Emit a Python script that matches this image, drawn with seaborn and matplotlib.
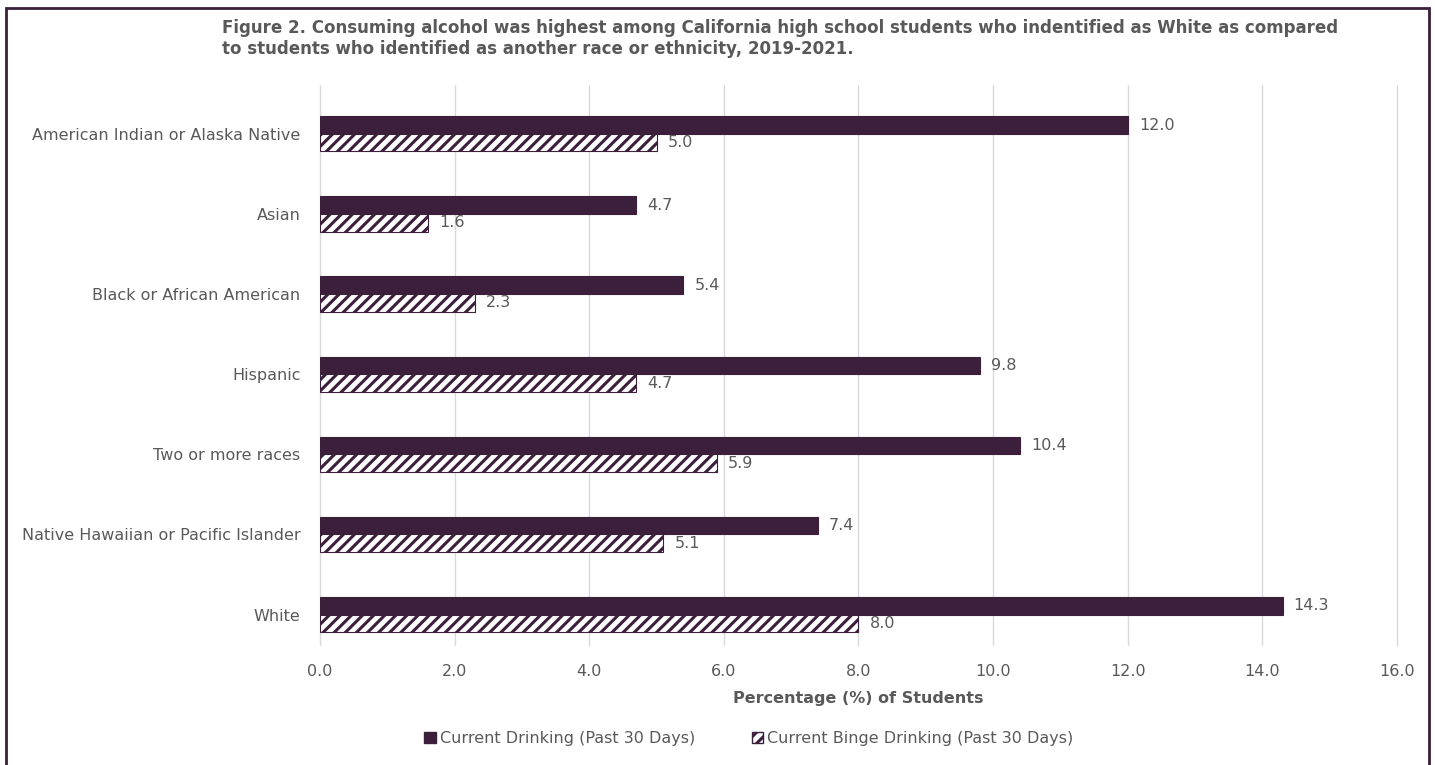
import matplotlib
matplotlib.use("Agg")
import matplotlib.pyplot as plt
import seaborn as sns
import pandas as pd
from matplotlib.patches import Rectangle, Patch

categories = ["American Indian or Alaska Native", "Asian", "Black or African American",
              "Hispanic", "Two or more races", "Native Hawaiian or Pacific Islander", "White"]
current = [12.0, 4.7, 5.4, 9.8, 10.4, 7.4, 14.3]
binge = [5.0, 1.6, 2.3, 4.7, 5.9, 5.1, 8.0]
series = ["Current Drinking (Past 30 Days)", "Current Binge Drinking (Past 30 Days)"]
xticks = [0, 2, 4, 6, 8, 10, 12, 14, 16]

DARK = "#3B1F3B"
GRAY = "#595959"

sns.set_theme(style="white")
plt.rcParams['font.family'] = ['DejaVu Sans']
plt.rcParams['hatch.linewidth'] = 2.2

df = pd.DataFrame({
    "Category": categories * 2,
    "Series": [series[0]] * len(categories) + [series[1]] * len(categories),
    "Value": current + binge,
})

fig = plt.figure(figsize=(14.35, 7.65), dpi=100)
ax = fig.add_axes([0.223, 0.1569, 0.7505, 0.732])

sns.barplot(data=df, y="Category", x="Value", hue="Series", order=categories,
            hue_order=series, orient="h", width=0.44, dodge=True,
            palette=[DARK, "white"], ax=ax, legend=False, errorbar=None, saturation=1)

for i, cont in enumerate(ax.containers):
    for bar in cont:
        bar.set_edgecolor(DARK)
        bar.set_linewidth(0.8)
        if i == 1:
            bar.set_hatch("///")
    ax.bar_label(cont, labels=[f"{v:.1f}" for v in cont.datavalues], padding=8,
                 fontsize=11.5, color=GRAY)

ax.set_xlim(0, 16)
ax.set_ylim(6 + 0.38, -0.61)
ax.set_xticks(xticks)
ax.set_xticklabels([f"{t:.1f}" for t in xticks], fontsize=11.5, color=GRAY)
ax.tick_params(axis="x", length=0, pad=14)
ax.tick_params(axis="y", length=0, pad=14, labelsize=11.5, labelcolor=GRAY)
ax.xaxis.grid(True, color="#D9D9D9", linewidth=1)
for gl in ax.get_xgridlines():
    gl.set_clip_on(False)
ax.yaxis.grid(False)
ax.set_axisbelow(True)
for s in ax.spines.values():
    s.set_visible(False)
ax.set_ylabel("")
ax.set_xlabel("Percentage (%) of Students", fontsize=11.5, fontweight="bold",
              color=GRAY, labelpad=8)

fig.text(0.1547, 0.975,
         "Figure 2. Consuming alcohol was highest among California high school students who indentified as White as compared\n"
         "to students who identified as another race or ethnicity, 2019-2021.",
         fontsize=12, fontweight="bold", color=GRAY, va="top", ha="left", linespacing=1.2)

handles = [Patch(facecolor=DARK, edgecolor=DARK, label=series[0]),
           Patch(facecolor="white", edgecolor=DARK, hatch="///", label=series[1])]
fig.legend(handles=handles, loc="center", bbox_to_anchor=(0.522, 0.035), ncol=2,
           frameon=False, fontsize=11.5, labelcolor=GRAY, handlelength=0.7,
           handleheight=0.7, handletextpad=0.3, columnspacing=3.5)

fig.patches.append(Rectangle((0.004, -0.02), 0.9918, 1.0095, transform=fig.transFigure,
                             fill=False, edgecolor=DARK, linewidth=2))

fig.savefig("out.png", dpi=100)
